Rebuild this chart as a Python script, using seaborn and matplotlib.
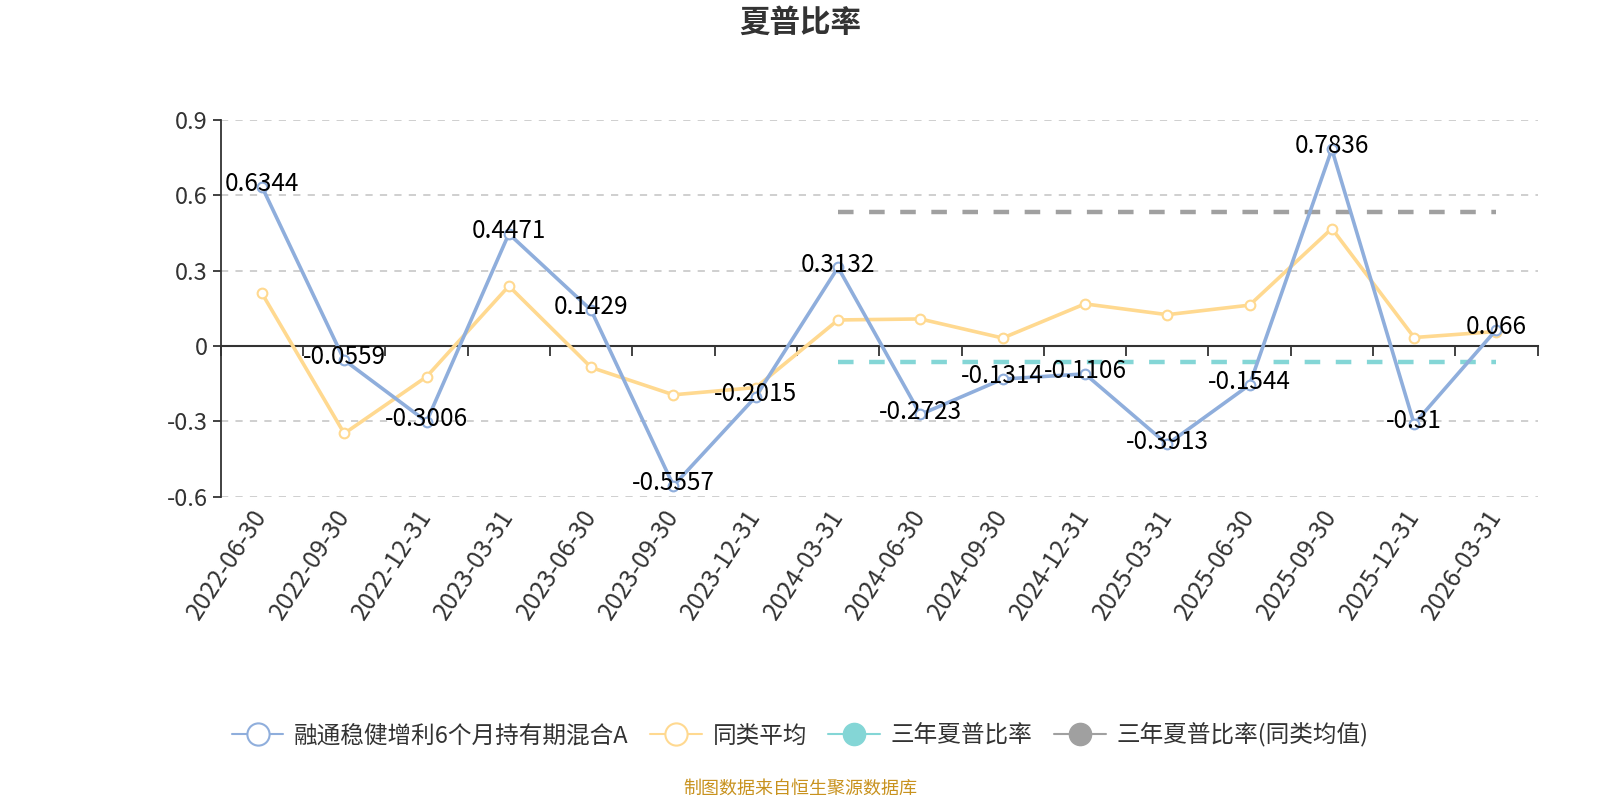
import seaborn as sns
import matplotlib.pyplot as plt
import pandas as pd
from matplotlib.lines import Line2D

dates = ["2022-06-30", "2022-09-30", "2022-12-31", "2023-03-31", "2023-06-30",
         "2023-09-30", "2023-12-31", "2024-03-31", "2024-06-30", "2024-09-30",
         "2024-12-31", "2025-03-31", "2025-06-30", "2025-09-30", "2025-12-31",
         "2026-03-31"]
fund = [0.6344, -0.0559, -0.3006, 0.4471, 0.1429, -0.5557, -0.2015, 0.3132,
        -0.2723, -0.1314, -0.1106, -0.3913, -0.1544, 0.7836, -0.31, 0.066]
peer_avg = [0.21, -0.348, -0.122, 0.239, -0.085, -0.194, -0.165, 0.104,
            0.108, 0.032, 0.168, 0.125, 0.163, 0.468, 0.034, 0.058]
sharpe_3y = -0.062
sharpe_3y_peer = 0.532
mark_start, mark_end = "2024-03-31", "2026-03-31"

fund_name = "融通稳健增利6个月持有期混合A"
names = [fund_name, "同类平均", "三年夏普比率", "三年夏普比率(同类均值)"]
colors = ["#8FAEDC", "#FFD990", "#84D6D6", "#A0A0A0"]

df = pd.DataFrame({"date": dates, "fund": fund, "avg": peer_avg})
df["pos"] = range(len(df))

sns.set_theme(style="white")
plt.rcParams["font.family"] = ["Noto Sans CJK SC", "DejaVu Sans"]

fig = plt.figure(figsize=(16, 8), dpi=100)
ax = fig.add_axes([0.138, 0.379, 0.823, 0.471])

# reference lines (3-year sharpe)
x0 = dates.index(mark_start)
x1 = dates.index(mark_end)
ax.hlines(sharpe_3y, x0, x1, colors=colors[2], lw=3.2, linestyles=(0, (3.5, 3.5)), zorder=2)
ax.hlines(sharpe_3y_peer, x0, x1, colors=colors[3], lw=3.2, linestyles=(0, (3.5, 3.5)), zorder=2)

sns.lineplot(data=df, x="pos", y="avg", ax=ax, color=colors[1], lw=2.6,
             marker="o", markersize=7, markerfacecolor="white",
             markeredgecolor=colors[1], markeredgewidth=1.5, zorder=3)
sns.lineplot(data=df, x="pos", y="fund", ax=ax, color=colors[0], lw=2.6,
             marker="o", markersize=7, markerfacecolor="white",
             markeredgecolor=colors[0], markeredgewidth=1.5, zorder=4)

for i, v in enumerate(fund):
    ax.annotate(f"{v:g}", (i, v), xytext=(0, 2), textcoords="offset points",
                ha="center", va="center", fontsize=17.5, color="#000000", zorder=6)

ax.set_xlim(-0.5, len(dates) - 0.5)
ax.set_ylim(-0.6, 0.9)
yt = [-0.6, -0.3, 0, 0.3, 0.6, 0.9]
ax.set_yticks(yt)
ax.set_yticklabels([f"{t:g}" for t in yt], fontsize=17, color="#333333")
for t in yt:
    if t != 0:
        ax.axhline(t, color="#CCCCCC", lw=1.3, ls=(0, (4, 4)), zorder=1)

# x axis on zero with boundary ticks
ax.spines["bottom"].set_position(("data", 0))
ax.spines["bottom"].set_color("#333333")
ax.spines["bottom"].set_linewidth(1.5)
ax.spines["left"].set_color("#333333")
ax.spines["left"].set_linewidth(1.3)
ax.spines["top"].set_visible(False)
ax.spines["right"].set_visible(False)
ax.set_xticks([i - 0.5 for i in range(len(dates) + 1)])
ax.set_xticklabels([])
ax.tick_params(axis="x", direction="out", length=7, width=1.3, color="#333333", bottom=True)
ax.tick_params(axis="y", direction="out", length=6, width=1.3, color="#333333", left=True)
ax.set_xlabel("")
ax.set_ylabel("")

for i, d in enumerate(dates):
    ax.text(i, -0.66, d, ha="right", va="center", rotation=57,
            rotation_mode="anchor", fontsize=17.5, color="#333333", clip_on=False)

fig.text(0.5, 0.972, "夏普比率", ha="center", va="center", fontsize=22,
         fontweight="bold", color="#333333")

handles = [
    Line2D([], [], color=colors[0], lw=1.5, marker="o", markersize=16,
           markerfacecolor="white", markeredgecolor=colors[0], markeredgewidth=1.5),
    Line2D([], [], color=colors[1], lw=1.5, marker="o", markersize=16,
           markerfacecolor="white", markeredgecolor=colors[1], markeredgewidth=1.5),
    Line2D([], [], color=colors[2], lw=1.5, marker="o", markersize=16,
           markerfacecolor=colors[2], markeredgecolor=colors[2]),
    Line2D([], [], color=colors[3], lw=1.5, marker="o", markersize=16,
           markerfacecolor=colors[3], markeredgecolor=colors[3]),
]
fig.legend(handles, names, loc="center", bbox_to_anchor=(0.5, 0.081), ncol=4,
           frameon=False, fontsize=17, handlelength=2.2, columnspacing=0.9,
           handletextpad=0.45, labelcolor="#333333")

fig.text(0.5, 0.014, "制图数据来自恒生聚源数据库", ha="center", va="center",
         fontsize=13, color="#C8921E")

plt.savefig("out.png", dpi=100)
